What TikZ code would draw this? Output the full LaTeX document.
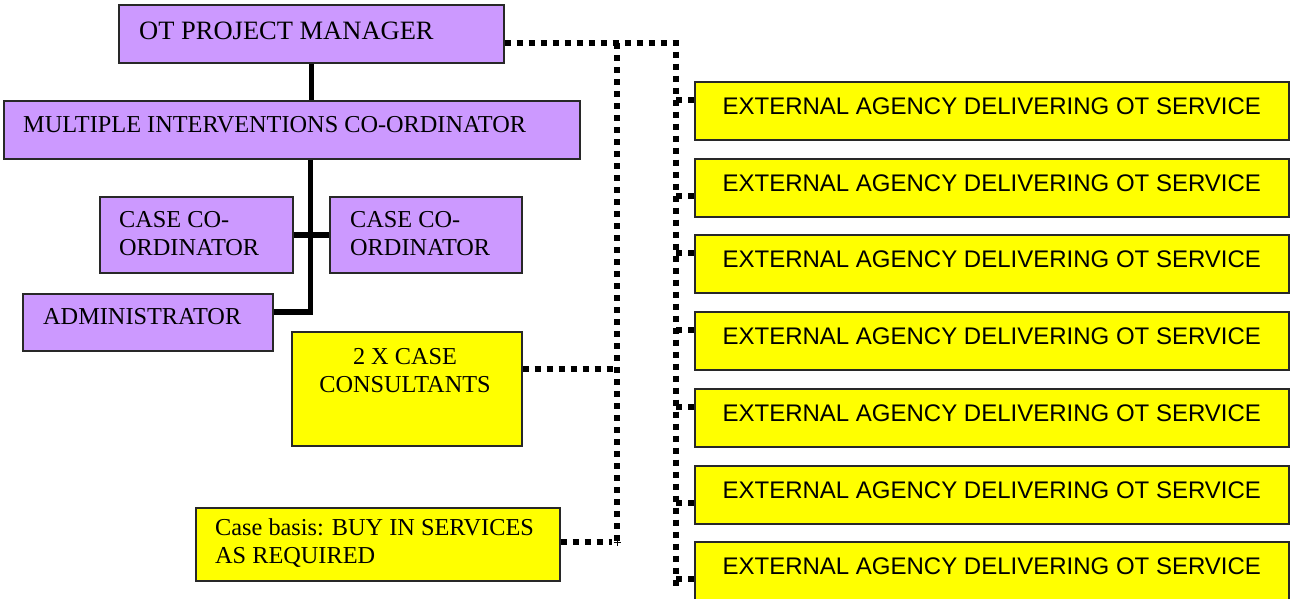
\documentclass[tikz,border=0pt]{standalone}
\usepackage{fontspec}
\setmainfont{Liberation Serif}
\newfontfamily\arialfont{Liberation Sans}
\definecolor{lilac}{RGB}{204,153,255}
\definecolor{brightyellow}{RGB}{255,255,0}
\definecolor{boxedge}{RGB}{40,40,40}
\begin{document}
\begin{tikzpicture}[x=1pt,y=-1pt,
  box/.style={draw=boxedge, line width=1.6pt, inner sep=0pt, anchor=north west},
  staff/.style={box, fill=lilac},
  agency/.style={box, fill=brightyellow},
  boxtext/.style={inner sep=0pt, font=\fontsize{24.3}{28}\selectfont},
  titletext/.style={inner sep=0pt, font=\fontsize{26.5}{30}\selectfont},
  agencytext/.style={inner sep=0pt, font=\arialfont\fontsize{24}{28}\selectfont},
  solidlink/.style={line width=5.5pt},
  dotlink/.style={line width=6pt, dash pattern=on 6pt off 6pt}]
\useasboundingbox (0,0) rectangle (1290,598);

% staff boxes
\node[staff, minimum width=385pt, minimum height=58pt] (pm) at (118,4) {};
\node[titletext, anchor=west] (pmtext) at (139,31) {OT PROJECT MANAGER};
\node[staff, minimum width=576pt, minimum height=58pt] (mic) at (3,100) {};
\node[boxtext, anchor=west] (mictext) at (23,125) {MULTIPLE INTERVENTIONS CO-ORDINATOR};
\node[staff, minimum width=193pt, minimum height=76pt] (cc1) at (99,196) {};
\node[boxtext, anchor=west, align=left] (cc1text) at (119,234) {CASE CO-\\ORDINATOR};
\node[staff, minimum width=192pt, minimum height=76pt] (cc2) at (329,196) {};
\node[boxtext, anchor=west, align=left] (cc2text) at (350,234) {CASE CO-\\ORDINATOR};
\node[staff, minimum width=250pt, minimum height=57pt] (adm) at (22,293) {};
\node[boxtext, anchor=west] (admtext) at (43,317) {ADMINISTRATOR};

% yellow boxes on the left
\node[agency, minimum width=230pt, minimum height=114pt] (cons) at (291,331) {};
\node[boxtext, anchor=north, align=center] (constext) at (405,348) {2 X CASE\\CONSULTANTS};
\node[agency, minimum width=364pt, minimum height=73pt] (buy) at (195,507) {};
\node[boxtext, anchor=west, align=left] (buytext) at (215,543) {Case basis: BUY IN SERVICES\\AS REQUIRED};

% solid reporting lines
\draw[solidlink] (pm.south) -- (pm.south |- mic.north);
\coordinate (trunk) at (310.5,312);
\draw[solidlink] (trunk |- mic.south) -- (trunk) -- (trunk -| adm.east);
\draw[solidlink] (cc1.east) -- (cc2.west);

% dotted links
\coordinate (busA) at (617,43);
\coordinate (busB) at (676,43);
\coordinate (busBend) at (676,586);
\coordinate (jc) at (617,369);
\coordinate (jb) at (617,542);
\draw[dotlink] (pm.east |- busB) -- (busB) -- (busBend);
\draw[dotlink] (busA) -- (jb);
\draw[dotlink] (cons.east |- jc) -- (jc);
\draw[dotlink] (buy.east |- jb) -- ([xshift=-5pt]jb);
\draw[line width=0.7pt] ([xshift=-3.5pt]jb) -- ([xshift=3.5pt]jb)
  ([yshift=-3.5pt]jb) -- ([yshift=3.5pt]jb);

% external agencies
\foreach \i/\t/\s in {1/81/100, 2/158/196, 3/234/253, 4/311/330, 5/388/407, 6/465/503, 7/541/579} {
  \node[agency, minimum width=594pt, minimum height=58pt] (ext\i) at (694,\t) {};
  \node[agencytext, yshift=5pt] (exttext\i) at (ext\i.center) {EXTERNAL AGENCY DELIVERING OT SERVICE};
  \coordinate (stub\i) at (676,\s);
  \draw[dotlink] (stub\i) -- (stub\i -| ext\i.west);
}
\end{tikzpicture}
\end{document}
